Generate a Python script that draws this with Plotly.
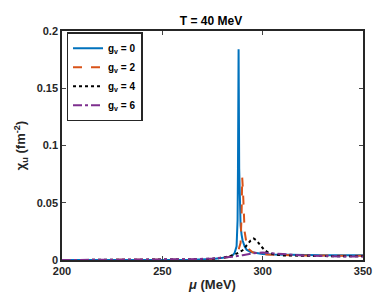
import plotly.graph_objects as go

# gv = 0
mu_g0 = [200, 250, 265, 275, 280, 283, 285, 286, 287, 287.5, 287.7, 287.9, 288.0, 288.1, 288.3, 288.6, 289, 289.5, 290, 291, 292, 294, 297, 300, 305, 310, 320, 330, 340, 350]
chi_g0 = [0.0, 0.0001, 0.0003, 0.0008, 0.0015, 0.0025, 0.004, 0.006, 0.012, 0.035, 0.08, 0.15, 0.184, 0.15, 0.08, 0.045, 0.03, 0.022, 0.017, 0.012, 0.009, 0.007, 0.0058, 0.0052, 0.0047, 0.0045, 0.0043, 0.0042, 0.0042, 0.0042]

# gv = 2
mu_g2 = [200, 250, 265, 275, 280, 284, 286, 288, 289, 289.5, 289.8, 290.2, 290.6, 291, 292, 293, 295, 298, 302, 310, 320, 335, 350]
chi_g2 = [0.0, 0.0001, 0.0003, 0.0009, 0.0016, 0.003, 0.005, 0.009, 0.015, 0.04, 0.072, 0.06, 0.04, 0.025, 0.014, 0.0095, 0.0068, 0.0055, 0.0048, 0.0043, 0.004, 0.0038, 0.0038]

# gv = 4
mu_g4 = [200, 250, 265, 275, 280, 284, 287, 290, 292, 294, 295.5, 297, 299, 301, 303, 306, 310, 320, 335, 350]
chi_g4 = [0.0, 0.0002, 0.0005, 0.0012, 0.002, 0.0035, 0.0055, 0.0085, 0.0125, 0.017, 0.0188, 0.017, 0.0125, 0.0085, 0.0063, 0.0048, 0.004, 0.0035, 0.0033, 0.0032]

# gv = 6
mu_g6 = [200, 250, 265, 275, 280, 285, 290, 295, 300, 305, 310, 320, 330, 340, 350]
chi_g6 = [0.0, 0.0003, 0.0007, 0.0013, 0.0019, 0.0028, 0.0042, 0.0058, 0.0066, 0.0062, 0.0052, 0.0040, 0.0034, 0.0031, 0.0030]

series_names = ["g<sub>v</sub> = 0", "g<sub>v</sub> = 2", "g<sub>v</sub> = 4", "g<sub>v</sub> = 6"]
x_ticks = [200, 250, 300, 350]
y_ticks = [0, 0.05, 0.1, 0.15, 0.2]

colors = ["#0072BD", "#D95319", "#000000", "#7E2F8E"]
dashes = ["solid", "dash", "dot", "dashdot"]

fig = go.Figure()
for mu, chi, name, c, d in zip([mu_g0, mu_g2, mu_g4, mu_g6], [chi_g0, chi_g2, chi_g4, chi_g6], series_names, colors, dashes):
    fig.add_trace(go.Scatter(x=mu, y=chi, mode="lines", name=name,
                             line=dict(color=c, dash=d, width=2)))

font = dict(family="Liberation Sans, Arial, sans-serif", size=11, color="#262626", weight="bold")

fig.update_layout(
    width=392, height=294,
    margin=dict(l=52, r=37, t=23, b=38),
    plot_bgcolor="white", paper_bgcolor="white",
    font=font,
    title=dict(text="T = 40 MeV", x=0.518, xanchor="center", y=0.955, yanchor="middle",
               font=dict(family="Liberation Sans, Arial, sans-serif", size=12, color="#000000", weight="bold")),
    showlegend=True,
    legend=dict(x=0.015, y=0.995, xanchor="left", yanchor="top",
                bgcolor="white", bordercolor="#262626", borderwidth=1.5,
                font=dict(family="Liberation Sans, Arial, sans-serif", size=10, color="#000000", weight="bold"),
                tracegroupgap=0, itemwidth=30),
    xaxis=dict(range=[200, 350], tickvals=x_ticks, ticks="inside", ticklen=4, tickwidth=1,
               showline=True, linecolor="#262626", linewidth=1.5, mirror="ticks",
               showgrid=False, zeroline=False,
               title=dict(text="<i>μ</i> (MeV)", standoff=4)),
    yaxis=dict(range=[0, 0.2], tickvals=y_ticks, ticks="inside", ticklen=4, tickwidth=1,
               showline=True, linecolor="#262626", linewidth=1.5, mirror="ticks",
               showgrid=False, zeroline=False,
               title=dict(text="χ<sub>u</sub> (fm<sup>-2</sup>)", standoff=8)),
)

fig.write_html("out.html")
